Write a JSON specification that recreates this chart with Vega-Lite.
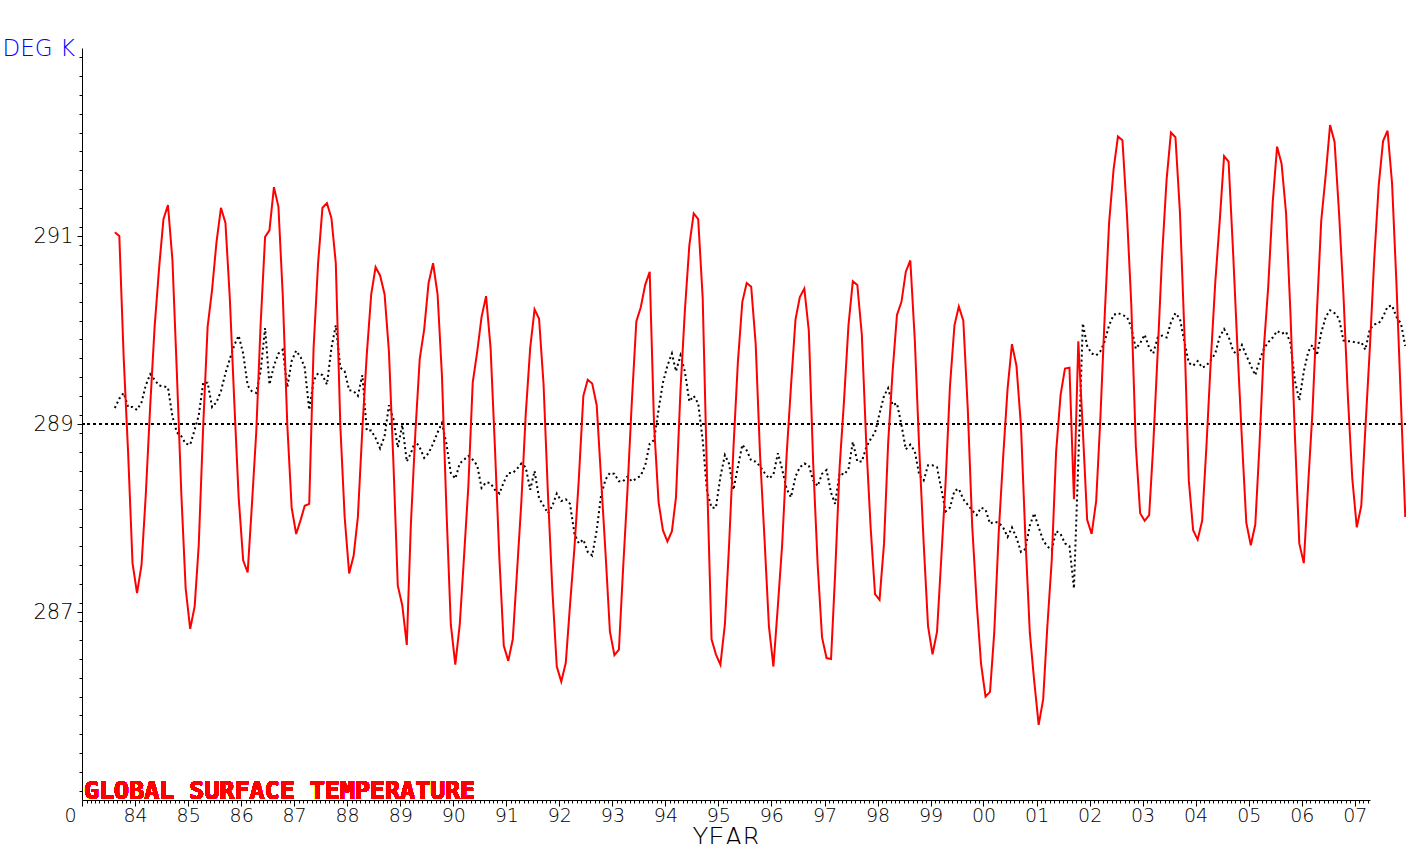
{
  "$schema": "https://vega.github.io/schema/vega-lite/v6.json",
  "width": 1288,
  "height": 752,
  "autosize": {"type": "none"},
  "padding": {"left": 82, "top": 48, "right": 36, "bottom": 44},
  "background": "#ffffff",
  "config": {"view": {"stroke": null}, "axis": {"labelOverlap": false, "labelFlush": false, "labelBound": false, "grid": false}},
  "data": {
    "values": [
      {"d":"1983-08-15","t":291.04,"a":289.17},{"d":"1983-09-15","t":291.00,"a":289.27},{"d":"1983-10-15","t":289.71,"a":289.33},{"d":"1983-11-15","t":288.68,"a":289.18},{"d":"1983-12-15","t":287.52,"a":289.18},
      {"d":"1984-01-15","t":287.20,"a":289.15},{"d":"1984-02-15","t":287.50,"a":289.23},{"d":"1984-03-15","t":288.24,"a":289.41},{"d":"1984-04-15","t":289.20,"a":289.53},{"d":"1984-05-15","t":290.03,"a":289.47},{"d":"1984-06-15","t":290.66,"a":289.41},{"d":"1984-07-15","t":291.18,"a":289.40},{"d":"1984-08-15","t":291.33,"a":289.39},{"d":"1984-09-15","t":290.74,"a":289.08},{"d":"1984-10-15","t":289.56,"a":288.91},{"d":"1984-11-15","t":288.26,"a":288.87},{"d":"1984-12-15","t":287.25,"a":288.79},
      {"d":"1985-01-15","t":286.82,"a":288.78},{"d":"1985-02-15","t":287.06,"a":288.94},{"d":"1985-03-15","t":287.71,"a":289.09},{"d":"1985-04-15","t":288.99,"a":289.44},{"d":"1985-05-15","t":290.03,"a":289.44},{"d":"1985-06-15","t":290.43,"a":289.18},{"d":"1985-07-15","t":290.93,"a":289.23},{"d":"1985-08-15","t":291.30,"a":289.35},{"d":"1985-09-15","t":291.14,"a":289.54},{"d":"1985-10-15","t":290.34,"a":289.69},{"d":"1985-11-15","t":289.23,"a":289.84},{"d":"1985-12-15","t":288.22,"a":289.94},
      {"d":"1986-01-15","t":287.55,"a":289.75},{"d":"1986-02-15","t":287.42,"a":289.41},{"d":"1986-03-15","t":288.11,"a":289.35},{"d":"1986-04-15","t":288.91,"a":289.33},{"d":"1986-05-15","t":290.05,"a":289.56},{"d":"1986-06-15","t":290.99,"a":290.02},{"d":"1986-07-15","t":291.06,"a":289.42},{"d":"1986-08-15","t":291.52,"a":289.62},{"d":"1986-09-15","t":291.31,"a":289.75},{"d":"1986-10-15","t":290.36,"a":289.79},{"d":"1986-11-15","t":288.99,"a":289.39},{"d":"1986-12-15","t":288.11,"a":289.67},
      {"d":"1987-01-15","t":287.83,"a":289.78},{"d":"1987-02-15","t":287.98,"a":289.71},{"d":"1987-03-15","t":288.13,"a":289.60},{"d":"1987-04-15","t":288.15,"a":289.15},{"d":"1987-05-15","t":289.81,"a":289.46},{"d":"1987-06-15","t":290.71,"a":289.54},{"d":"1987-07-15","t":291.30,"a":289.52},{"d":"1987-08-15","t":291.35,"a":289.42},{"d":"1987-09-15","t":291.19,"a":289.81},{"d":"1987-10-15","t":290.71,"a":290.05},{"d":"1987-11-15","t":288.99,"a":289.60},{"d":"1987-12-15","t":288.01,"a":289.56},
      {"d":"1988-01-15","t":287.41,"a":289.36},{"d":"1988-02-15","t":287.60,"a":289.35},{"d":"1988-03-15","t":288.01,"a":289.30},{"d":"1988-04-15","t":288.95,"a":289.52},{"d":"1988-05-15","t":289.73,"a":288.93},{"d":"1988-06-15","t":290.38,"a":288.93},{"d":"1988-07-15","t":290.67,"a":288.85},{"d":"1988-08-15","t":290.58,"a":288.74},{"d":"1988-09-15","t":290.38,"a":288.87},{"d":"1988-10-15","t":289.77,"a":289.20},{"d":"1988-11-15","t":288.58,"a":289.05},{"d":"1988-12-15","t":287.28,"a":288.75},
      {"d":"1989-01-15","t":287.07,"a":288.99},{"d":"1989-02-15","t":286.65,"a":288.60},{"d":"1989-03-15","t":287.93,"a":288.69},{"d":"1989-04-15","t":288.91,"a":288.82},{"d":"1989-05-15","t":289.69,"a":288.75},{"d":"1989-06-15","t":290.01,"a":288.64},{"d":"1989-07-15","t":290.50,"a":288.69},{"d":"1989-08-15","t":290.71,"a":288.79},{"d":"1989-09-15","t":290.38,"a":288.91},{"d":"1989-10-15","t":289.52,"a":289.01},{"d":"1989-11-15","t":288.09,"a":288.79},{"d":"1989-12-15","t":286.87,"a":288.48},
      {"d":"1990-01-15","t":286.44,"a":288.42},{"d":"1990-02-15","t":286.87,"a":288.58},{"d":"1990-03-15","t":287.56,"a":288.62},{"d":"1990-04-15","t":288.34,"a":288.66},{"d":"1990-05-15","t":289.44,"a":288.62},{"d":"1990-06-15","t":289.77,"a":288.56},{"d":"1990-07-15","t":290.14,"a":288.32},{"d":"1990-08-15","t":290.36,"a":288.38},{"d":"1990-09-15","t":289.81,"a":288.37},{"d":"1990-10-15","t":288.75,"a":288.30},{"d":"1990-11-15","t":287.56,"a":288.26},{"d":"1990-12-15","t":286.64,"a":288.38},
      {"d":"1991-01-15","t":286.48,"a":288.48},{"d":"1991-02-15","t":286.71,"a":288.48},{"d":"1991-03-15","t":287.40,"a":288.52},{"d":"1991-04-15","t":288.17,"a":288.58},{"d":"1991-05-15","t":289.10,"a":288.54},{"d":"1991-06-15","t":289.81,"a":288.30},{"d":"1991-07-15","t":290.22,"a":288.50},{"d":"1991-08-15","t":290.12,"a":288.21},{"d":"1991-09-15","t":289.42,"a":288.13},{"d":"1991-10-15","t":288.26,"a":288.05},{"d":"1991-11-15","t":287.22,"a":288.13},{"d":"1991-12-15","t":286.42,"a":288.26},
      {"d":"1992-01-15","t":286.26,"a":288.18},{"d":"1992-02-15","t":286.46,"a":288.20},{"d":"1992-03-15","t":287.07,"a":288.15},{"d":"1992-04-15","t":287.69,"a":287.83},{"d":"1992-05-15","t":288.42,"a":287.73},{"d":"1992-06-15","t":289.30,"a":287.77},{"d":"1992-07-15","t":289.47,"a":287.64},{"d":"1992-08-15","t":289.43,"a":287.60},{"d":"1992-09-15","t":289.20,"a":287.87},{"d":"1992-10-15","t":288.42,"a":288.24},{"d":"1992-11-15","t":287.62,"a":288.41},{"d":"1992-12-15","t":286.79,"a":288.48},
      {"d":"1993-01-15","t":286.54,"a":288.47},{"d":"1993-02-15","t":286.60,"a":288.39},{"d":"1993-03-15","t":287.44,"a":288.39},{"d":"1993-04-15","t":288.30,"a":288.44},{"d":"1993-05-15","t":289.24,"a":288.39},{"d":"1993-06-15","t":290.09,"a":288.42},{"d":"1993-07-15","t":290.24,"a":288.45},{"d":"1993-08-15","t":290.48,"a":288.56},{"d":"1993-09-15","t":290.62,"a":288.79},{"d":"1993-10-15","t":288.99,"a":288.83},{"d":"1993-11-15","t":288.17,"a":289.15},{"d":"1993-12-15","t":287.87,"a":289.44},
      {"d":"1994-01-15","t":287.75,"a":289.62},{"d":"1994-02-15","t":287.86,"a":289.75},{"d":"1994-03-15","t":288.22,"a":289.56},{"d":"1994-04-15","t":289.36,"a":289.73},{"d":"1994-05-15","t":290.20,"a":289.56},{"d":"1994-06-15","t":290.90,"a":289.24},{"d":"1994-07-15","t":291.24,"a":289.30},{"d":"1994-08-15","t":291.18,"a":289.22},{"d":"1994-09-15","t":290.34,"a":288.83},{"d":"1994-10-15","t":288.42,"a":288.28},{"d":"1994-11-15","t":286.71,"a":288.11},{"d":"1994-12-15","t":286.55,"a":288.11},
      {"d":"1995-01-15","t":286.44,"a":288.44},{"d":"1995-02-15","t":286.87,"a":288.67},{"d":"1995-03-15","t":287.69,"a":288.58},{"d":"1995-04-15","t":288.75,"a":288.30},{"d":"1995-05-15","t":289.65,"a":288.54},{"d":"1995-06-15","t":290.30,"a":288.78},{"d":"1995-07-15","t":290.50,"a":288.72},{"d":"1995-08-15","t":290.46,"a":288.61},{"d":"1995-09-15","t":289.85,"a":288.60},{"d":"1995-10-15","t":288.67,"a":288.55},{"d":"1995-11-15","t":287.77,"a":288.48},{"d":"1995-12-15","t":286.85,"a":288.42},
      {"d":"1996-01-15","t":286.42,"a":288.46},{"d":"1996-02-15","t":287.07,"a":288.69},{"d":"1996-03-15","t":287.71,"a":288.52},{"d":"1996-04-15","t":288.67,"a":288.31},{"d":"1996-05-15","t":289.40,"a":288.22},{"d":"1996-06-15","t":290.11,"a":288.44},{"d":"1996-07-15","t":290.35,"a":288.54},{"d":"1996-08-15","t":290.44,"a":288.58},{"d":"1996-09-15","t":289.99,"a":288.56},{"d":"1996-10-15","t":288.58,"a":288.40},{"d":"1996-11-15","t":287.50,"a":288.34},{"d":"1996-12-15","t":286.73,"a":288.47},
      {"d":"1997-01-15","t":286.51,"a":288.51},{"d":"1997-02-15","t":286.50,"a":288.27},{"d":"1997-03-15","t":287.40,"a":288.15},{"d":"1997-04-15","t":288.54,"a":288.48},{"d":"1997-05-15","t":289.24,"a":288.46},{"d":"1997-06-15","t":290.05,"a":288.52},{"d":"1997-07-15","t":290.52,"a":288.81},{"d":"1997-08-15","t":290.48,"a":288.60},{"d":"1997-09-15","t":289.95,"a":288.60},{"d":"1997-10-15","t":288.81,"a":288.75},{"d":"1997-11-15","t":287.89,"a":288.84},{"d":"1997-12-15","t":287.19,"a":288.91},
      {"d":"1998-01-15","t":287.13,"a":289.11},{"d":"1998-02-15","t":287.73,"a":289.30},{"d":"1998-03-15","t":288.79,"a":289.38},{"d":"1998-04-15","t":289.56,"a":289.20},{"d":"1998-05-15","t":290.16,"a":289.22},{"d":"1998-06-15","t":290.30,"a":288.99},{"d":"1998-07-15","t":290.62,"a":288.73},{"d":"1998-08-15","t":290.74,"a":288.78},{"d":"1998-09-15","t":289.89,"a":288.71},{"d":"1998-10-15","t":288.75,"a":288.46},{"d":"1998-11-15","t":287.73,"a":288.40},{"d":"1998-12-15","t":286.85,"a":288.56},
      {"d":"1999-01-15","t":286.55,"a":288.56},{"d":"1999-02-15","t":286.79,"a":288.54},{"d":"1999-03-15","t":287.54,"a":288.32},{"d":"1999-04-15","t":288.38,"a":288.07},{"d":"1999-05-15","t":289.40,"a":288.11},{"d":"1999-06-15","t":290.05,"a":288.29},{"d":"1999-07-15","t":290.25,"a":288.31},{"d":"1999-08-15","t":290.10,"a":288.20},{"d":"1999-09-15","t":289.15,"a":288.14},{"d":"1999-10-15","t":287.92,"a":288.08},{"d":"1999-11-15","t":287.10,"a":288.03},{"d":"1999-12-15","t":286.45,"a":288.11},
      {"d":"2000-01-15","t":286.10,"a":288.09},{"d":"2000-02-15","t":286.15,"a":287.94},{"d":"2000-03-15","t":286.78,"a":287.96},{"d":"2000-04-15","t":287.85,"a":287.95},{"d":"2000-05-15","t":288.64,"a":287.90},{"d":"2000-06-15","t":289.38,"a":287.80},{"d":"2000-07-15","t":289.85,"a":287.90},{"d":"2000-08-15","t":289.62,"a":287.79},{"d":"2000-09-15","t":288.98,"a":287.64},{"d":"2000-10-15","t":287.81,"a":287.67},{"d":"2000-11-15","t":286.78,"a":287.92},{"d":"2000-12-15","t":286.27,"a":288.05},
      {"d":"2001-01-15","t":285.80,"a":287.90},{"d":"2001-02-15","t":286.07,"a":287.76},{"d":"2001-03-15","t":286.83,"a":287.70},{"d":"2001-04-15","t":287.55,"a":287.66},{"d":"2001-05-15","t":288.70,"a":287.86},{"d":"2001-06-15","t":289.31,"a":287.83},{"d":"2001-07-15","t":289.59,"a":287.73},{"d":"2001-08-15","t":289.60,"a":287.70},{"d":"2001-09-15","t":288.20,"a":287.25},{"d":"2001-10-15","t":289.88,"a":288.60},{"d":"2001-11-15","t":288.94,"a":290.07},{"d":"2001-12-15","t":287.98,"a":289.83},
      {"d":"2002-01-15","t":287.83,"a":289.75},{"d":"2002-02-15","t":288.18,"a":289.73},{"d":"2002-03-15","t":289.03,"a":289.77},{"d":"2002-04-15","t":290.16,"a":289.88},{"d":"2002-05-15","t":291.14,"a":290.05},{"d":"2002-06-15","t":291.71,"a":290.16},{"d":"2002-07-15","t":292.06,"a":290.18},{"d":"2002-08-15","t":292.02,"a":290.16},{"d":"2002-09-15","t":291.23,"a":290.14},{"d":"2002-10-15","t":290.27,"a":290.03},{"d":"2002-11-15","t":288.77,"a":289.80},{"d":"2002-12-15","t":288.05,"a":289.86},
      {"d":"2003-01-15","t":287.97,"a":289.95},{"d":"2003-02-15","t":288.03,"a":289.81},{"d":"2003-03-15","t":288.77,"a":289.75},{"d":"2003-04-15","t":289.77,"a":289.92},{"d":"2003-05-15","t":290.79,"a":289.94},{"d":"2003-06-15","t":291.60,"a":289.92},{"d":"2003-07-15","t":292.10,"a":290.08},{"d":"2003-08-15","t":292.05,"a":290.18},{"d":"2003-09-15","t":291.25,"a":290.12},{"d":"2003-10-15","t":290.00,"a":289.88},{"d":"2003-11-15","t":288.40,"a":289.65},{"d":"2003-12-15","t":287.87,"a":289.62},
      {"d":"2004-01-15","t":287.77,"a":289.67},{"d":"2004-02-15","t":287.97,"a":289.60},{"d":"2004-03-15","t":288.75,"a":289.62},{"d":"2004-04-15","t":289.69,"a":289.68},{"d":"2004-05-15","t":290.50,"a":289.75},{"d":"2004-06-15","t":291.16,"a":289.93},{"d":"2004-07-15","t":291.85,"a":290.01},{"d":"2004-08-15","t":291.79,"a":289.93},{"d":"2004-09-15","t":290.83,"a":289.78},{"d":"2004-10-15","t":289.81,"a":289.73},{"d":"2004-11-15","t":288.83,"a":289.84},{"d":"2004-12-15","t":287.95,"a":289.73},
      {"d":"2005-01-15","t":287.71,"a":289.62},{"d":"2005-02-15","t":287.93,"a":289.52},{"d":"2005-03-15","t":288.75,"a":289.67},{"d":"2005-04-15","t":289.81,"a":289.80},{"d":"2005-05-15","t":290.46,"a":289.87},{"d":"2005-06-15","t":291.36,"a":289.92},{"d":"2005-07-15","t":291.95,"a":289.99},{"d":"2005-08-15","t":291.77,"a":289.96},{"d":"2005-09-15","t":291.24,"a":289.98},{"d":"2005-10-15","t":290.18,"a":289.86},{"d":"2005-11-15","t":288.87,"a":289.46},{"d":"2005-12-15","t":287.73,"a":289.25},
      {"d":"2006-01-15","t":287.52,"a":289.56},{"d":"2006-02-15","t":288.38,"a":289.77},{"d":"2006-03-15","t":289.11,"a":289.84},{"d":"2006-04-15","t":290.18,"a":289.73},{"d":"2006-05-15","t":291.16,"a":289.97},{"d":"2006-06-15","t":291.65,"a":290.14},{"d":"2006-07-15","t":292.18,"a":290.21},{"d":"2006-08-15","t":292.00,"a":290.18},{"d":"2006-09-15","t":291.24,"a":290.12},{"d":"2006-10-15","t":290.38,"a":289.89},{"d":"2006-11-15","t":289.28,"a":289.88},{"d":"2006-12-15","t":288.42,"a":289.88},
      {"d":"2007-01-15","t":287.90,"a":289.86},{"d":"2007-02-15","t":288.13,"a":289.87},{"d":"2007-03-15","t":288.95,"a":289.79},{"d":"2007-04-15","t":289.81,"a":290.01},{"d":"2007-05-15","t":290.75,"a":290.06},{"d":"2007-06-15","t":291.54,"a":290.07},{"d":"2007-07-15","t":292.01,"a":290.14},{"d":"2007-08-15","t":292.12,"a":290.25},{"d":"2007-09-15","t":291.56,"a":290.26},{"d":"2007-10-15","t":290.50,"a":290.14},{"d":"2007-11-15","t":289.24,"a":290.07},{"d":"2007-12-15","t":288.01,"a":289.83}
    ]
  },
  "layer": [
    {
      "mark": {"type": "rule", "color": "#000000", "strokeWidth": 2, "strokeDash": [2, 3.8]},
      "encoding": {
        "x": {"datum": {"year": 1983, "month": 1, "date": 2, "utc": true}, "type": "temporal"},
        "x2": {"datum": {"year": 2007, "month": 12, "date": 28, "utc": true}},
        "y": {"datum": 289, "type": "quantitative"}
      }
    },
    {
      "mark": {"type": "line", "color": "#000000", "strokeWidth": 2, "strokeDash": [2, 3], "clip": false},
      "encoding": {
        "x": {
          "field": "d", "type": "temporal",
          "scale": {"type": "utc", "domain": [{"year": 1983, "month": 1, "date": 1, "utc": true}, {"year": 2007, "month": 4, "date": 16, "utc": true}], "nice": false},
          "axis": {
            "title": "YEAR", "titleFont": "DejaVu Sans", "titleFontSize": 26, "titleFontWeight": 200, "titleColor": "#000000",
            "titleBaseline": "alphabetic", "titleY": 46,
            "tickCount": {"interval": "month", "step": 1},
            "labelExpr": "utcmonth(datum.value) == 0 ? (utcyear(datum.value) == 1983 ? '0' : utcFormat(datum.value, '%y')) : ''",
            "labelOverlap": false, "labelFlush": false, "labelBound": false,
            "labelFont": "DejaVu Sans", "labelFontSize": 19, "labelFontWeight": 200, "labelColor": "#000000",
            "labelPadding": 0,
            "labelOffset": {"condition": {"test": "utcyear(datum.value) == 1983 && utcmonth(datum.value) == 0", "value": -12}, "value": 0},
            "tickSize": {"condition": {"test": "utcmonth(datum.value) == 0", "value": 6}, "value": 3},
            "tickColor": "#000000", "tickWidth": 1, "domainColor": "#000000", "domainWidth": 1, "grid": false
          }
        },
        "y": {
          "field": "a", "type": "quantitative",
          "scale": {"domain": [285, 293], "nice": false, "zero": false},
          "axis": {
            "title": "DEG K", "titleAngle": 0, "titleAlign": "left", "titleBaseline": "middle", "titleX": -80, "titleY": 0,
            "titleFont": "DejaVu Sans", "titleFontSize": 23, "titleFontWeight": 200, "titleColor": "#0000ff",
            "values": [285.1,285.3,285.5,285.7,285.9,286.1,286.3,286.5,286.7,286.9,287,287.1,287.3,287.5,287.7,287.9,288.1,288.3,288.5,288.7,288.9,289,289.1,289.3,289.5,289.7,289.9,290.1,290.3,290.5,290.7,290.9,291,291.1,291.3,291.5,291.7,291.9,292.1,292.3,292.5,292.7,292.9],
            "tickCount": 200,
            "labelExpr": "(datum.value == 287 || datum.value == 289 || datum.value == 291) ? format(datum.value, 'd') : ''",
            "labelOverlap": false, "labelFlush": false, "labelBound": false,
            "labelFont": "DejaVu Sans", "labelFontSize": 21, "labelFontWeight": 200, "labelColor": "#000000",
            "labelPadding": 4,
            "tickSize": {"condition": {"test": "datum.value == 287 || datum.value == 289 || datum.value == 291", "value": 5}, "value": 3},
            "tickColor": "#000000", "tickWidth": 1, "domainColor": "#000000", "domainWidth": 1, "grid": false
          }
        }
      }
    },
    {
      "mark": {"type": "line", "color": "#ff0000", "strokeWidth": 2, "clip": false},
      "encoding": {
        "x": {"field": "d", "type": "temporal"},
        "y": {"field": "t", "type": "quantitative"}
      }
    },
    {
      "mark": {"type": "text", "text": "GLOBAL SURFACE TEMPERATURE", "color": "#ff0000", "font": "DejaVu Sans Mono", "fontSize": 25, "fontWeight": "bold", "align": "left", "baseline": "alphabetic", "dx": 2, "dy": -1},
      "encoding": {
        "x": {"datum": {"year": 1983, "month": 1, "date": 1, "utc": true}, "type": "temporal"},
        "y": {"datum": 285, "type": "quantitative"}
      }
    }
  ]
}
